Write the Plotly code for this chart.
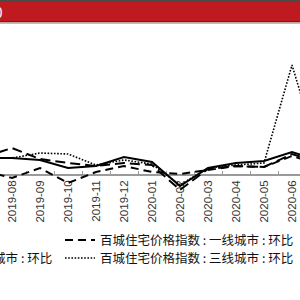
import plotly.graph_objects as go

# ---- data ----
months = ["2019-07", "2019-08", "2019-09", "2019-10", "2019-11", "2019-12",
          "2020-01", "2020-02", "2020-03", "2020-04", "2020-05", "2020-06", "2020-07"]
hundred_city = [0.17, 0.17, 0.15, 0.07, 0.09, 0.18, 0.13, -0.11, 0.07, 0.12, 0.14, 0.23, 0.14]
tier1 = [0.04, -0.03, 0.07, -0.08, 0.03, 0.09, 0.03, 0.01, 0.05, 0.09, 0.08, 0.19, 0.10]
tier2 = [0.18, 0.27, 0.16, 0.12, 0.09, 0.12, 0.10, -0.15, 0.06, 0.09, 0.08, 0.21, 0.12]
tier3 = [0.17, 0.17, 0.22, 0.21, 0.10, 0.15, 0.11, -0.10, 0.07, 0.10, 0.12, 1.10, 0.17]

names = ["百城住宅价格指数 : 环比",
         "百城住宅价格指数 : 一线城市 : 环比",
         "百城住宅价格指数 : 二线城市 : 环比",
         "百城住宅价格指数 : 三线城市 : 环比"]
title_text = "图10"

fig = go.Figure()
fig.add_trace(go.Scatter(x=months, y=hundred_city, name=names[0], mode="lines",
                         line=dict(color="#000000", width=2, dash="solid"), legend="legend"))
fig.add_trace(go.Scatter(x=months, y=tier1, name=names[1], mode="lines",
                         line=dict(color="#000000", width=2, dash="8px,5px"), legend="legend2"))
fig.add_trace(go.Scatter(x=months, y=tier2, name=names[2], mode="lines",
                         line=dict(color="#000000", width=2, dash="10px,5px"), legend="legend3"))
fig.add_trace(go.Scatter(x=months, y=tier3, name=names[3], mode="lines",
                         line=dict(color="#000000", width=1.6, dash="1.6px,1.6px"), legend="legend4"))

W = H = 300
def py(p):
    return 1 - p / H

legend_font = dict(family="Noto Sans CJK SC", size=12.5, color="#111111")
common_leg = dict(orientation="v", xanchor="left", yanchor="top", bgcolor="rgba(0,0,0,0)",
                  borderwidth=0, font=legend_font, itemwidth=30)

shapes = [
    dict(type="rect", xref="paper", yref="paper", x0=0, x1=1, y0=py(2), y1=py(0),
         fillcolor="#4a4a4a", line=dict(width=0), layer="above"),
    dict(type="rect", xref="paper", yref="paper", x0=0, x1=1, y0=py(21), y1=py(2),
         fillcolor="#C01A21", line=dict(width=0), layer="above"),
    dict(type="rect", xref="paper", yref="paper", x0=0, x1=1, y0=py(22.4), y1=py(21),
         fillcolor="#8E1015", line=dict(width=0), layer="above"),
    dict(type="rect", xref="paper", yref="paper", x0=0, x1=1, y0=py(24), y1=py(22.4),
         fillcolor="#B9C0C0", line=dict(width=0), layer="above"),
]

fig.update_layout(
    width=W, height=H,
    margin=dict(l=0, r=0, t=0, b=0, pad=0, autoexpand=False),
    paper_bgcolor="white", plot_bgcolor="white",
    showlegend=True,
    xaxis=dict(type="category", range=[1 - 12 / 28, 1 + 288 / 28], domain=[0, 1],
               anchor="free", position=py(175),
               showline=True, linecolor="#9a9a9a", linewidth=1.5,
               ticks="inside", tickson="boundaries", ticklen=3, tickcolor="#9a9a9a", tickwidth=1,
               tickangle=-90, tickfont=dict(family="Liberation Sans", size=11.5, color="#333333"),
               showgrid=False, zeroline=False, layer="below traces", fixedrange=True),
    yaxis=dict(range=[-0.25, 1.45], domain=[py(200), py(30)], visible=False,
               showgrid=False, zeroline=False, fixedrange=True),
    legend=dict(common_leg, x=-181 / W, y=py(225.4)),
    legend2=dict(common_leg, x=60 / W, y=py(225.4)),
    legend3=dict(common_leg, x=-181 / W, y=py(243.4)),
    legend4=dict(common_leg, x=60 / W, y=py(243.4)),
    shapes=shapes,
    annotations=[dict(text=title_text, xref="paper", yref="paper", x=5 / W, y=py(11.5),
                      xanchor="right", yanchor="middle", showarrow=False,
                      font=dict(family="Noto Sans CJK SC", size=14, color="white"))],
)

fig.write_html("out.html", config={"displayModeBar": False})
